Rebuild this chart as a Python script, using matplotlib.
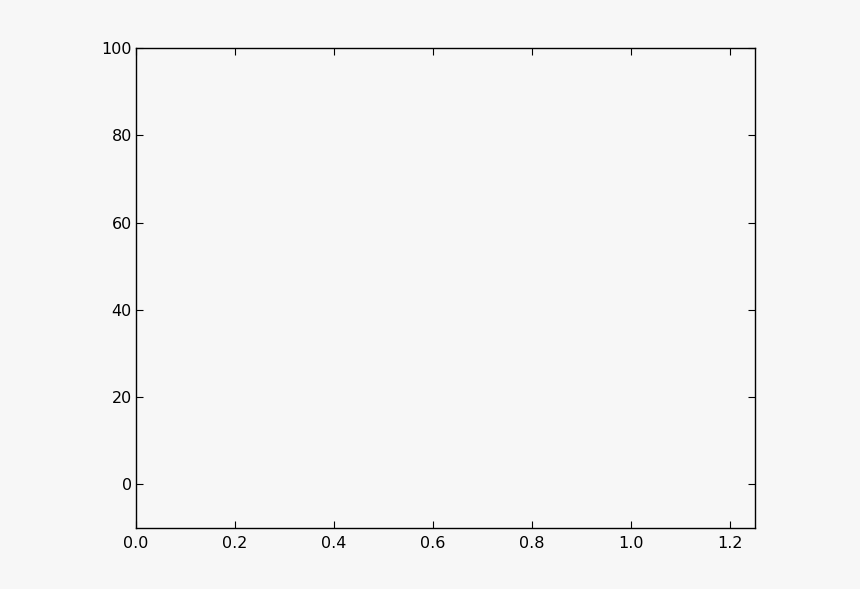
import matplotlib
matplotlib.use("Agg")
import matplotlib.pyplot as plt

# Data (the reference chart shows no plotted marks)
x_values = []
y_values = []
x_ticks = [0.0, 0.2, 0.4, 0.6, 0.8, 1.0, 1.2]
y_ticks = [0, 20, 40, 60, 80, 100]

bg = "#f7f7f7"
fig = plt.figure(figsize=(8.6, 5.89), dpi=100, facecolor=bg)
ax = fig.add_axes([136 / 860, (589 - 528) / 589, (755 - 136) / 860, (528 - 48) / 589])
ax.set_facecolor(bg)
ax.plot(x_values, y_values)
ax.set_xlim(0, 1.25)
ax.set_ylim(-10, 100)
ax.set_xticks(x_ticks)
ax.set_yticks(y_ticks)
ax.set_xticklabels([f"{v:.1f}" for v in x_ticks])
ax.set_yticklabels([str(v) for v in y_ticks])
ax.tick_params(direction="in", top=True, right=True, length=5, width=0.8,
               labelsize=11.5, colors="black")
ax.tick_params(axis="x", pad=6)
ax.tick_params(axis="y", pad=3)
for s in ax.spines.values():
    s.set_linewidth(1.0)
    s.set_color("black")

fig.savefig("out.png", dpi=100, facecolor=bg)
